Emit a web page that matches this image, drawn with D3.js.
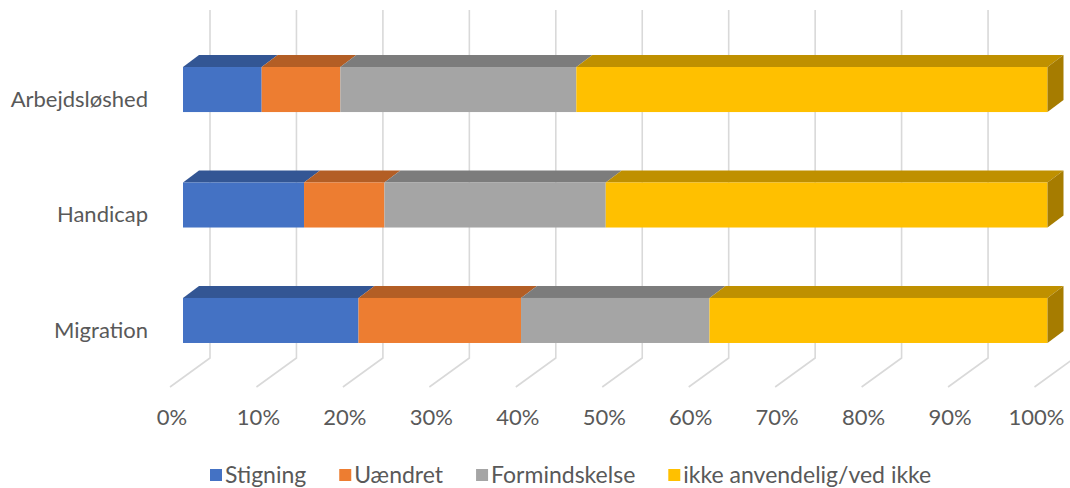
<!DOCTYPE html>
<html>
<head>
<meta charset="utf-8">
<script src="https://cdn.jsdelivr.net/npm/d3@7/dist/d3.min.js"></script>
<style>
  html, body { margin: 0; padding: 0; background: #fff; }
  svg { display: block; }
  text { font-family: Lato, "Open Sans", sans-serif; fill: #595959; }
</style>
</head>
<body>
<svg id="chart" width="1070" height="488"></svg>
<script>
// ---- data ----
const categories = ["Arbejdsløshed", "Handicap", "Migration"];
const seriesNames = ["Stigning", "Uændret", "Formindskelse", "ikke anvendelig/ved ikke"];
const stigning      = [0.091, 0.140, 0.203];
const uaendret      = [0.091, 0.093, 0.188];
const formindskelse = [0.273, 0.256, 0.218];
const ikke          = [0.545, 0.511, 0.391];
const tickValues = [0, 0.1, 0.2, 0.3, 0.4, 0.5, 0.6, 0.7, 0.8, 0.9, 1.0];
const tickLabels = ["0%", "10%", "20%", "30%", "40%", "50%", "60%", "70%", "80%", "90%", "100%"];

// ---- styles ----
const frontColors = ["#4472C4", "#ED7D31", "#A5A5A5", "#FFC000"];
const topColors   = ["#335694", "#B35E25", "#7C7C7C", "#BF9000"];
const sideColor   = "#A67C00";

const svg = d3.select("#chart");
const series = [stigning, uaendret, formindskelse, ikke];

// 3D geometry offsets
const wallX0 = 210, barX0 = 183, floorX0 = 170;
const depthDX = 16, depthDY = -12;
const wallTop = 10, wallBottom = 358, floorDX = -40, floorDY = 29;

const x = d3.scaleLinear().domain([0, 1]).range([0, 864.5]);
const y = d3.scaleBand().domain(categories).range([31.8, 378.2]).paddingInner(0.61).paddingOuter(0.305);

// gridlines (back wall + floor)
const grid = svg.append("g");
tickValues.forEach(v => {
  const gx = wallX0 + x(v);
  grid.append("path")
    .attr("d", `M${gx},${wallTop} L${gx},${wallBottom} L${gx + floorDX},${wallBottom + floorDY}`)
    .attr("fill", "none").attr("stroke", "#D9D9D9").attr("stroke-width", 1.6);
});

// tick labels
svg.append("g").selectAll("text").data(tickValues).join("text")
  .attr("x", (d) => floorX0 + x(d) + 2)
  .attr("y", 425)
  .attr("text-anchor", "middle")
  .style("font-size", "22px")
  .text((d, i) => tickLabels[i]);

// stacked data
const stackRows = categories.map((c, ci) => {
  let acc = 0;
  return series.map((s, si) => {
    const seg = { cat: c, si, x0: acc, x1: acc + s[ci], last: si === series.length - 1 };
    acc += s[ci];
    return seg;
  });
});

const bars = svg.append("g");
stackRows.forEach(row => {
  row.forEach(seg => {
    const yt = y(seg.cat), h = y.bandwidth();
    const a = barX0 + x(seg.x0), b = barX0 + x(seg.x1);
    // top face
    bars.append("path")
      .attr("d", `M${a},${yt} L${b},${yt} L${b + depthDX},${yt + depthDY} L${a + depthDX},${yt + depthDY} Z`)
      .attr("fill", topColors[seg.si]);
    // front face
    bars.append("rect")
      .attr("x", a).attr("y", yt).attr("width", b - a).attr("height", h)
      .attr("fill", frontColors[seg.si]);
    if (seg.last) {
      bars.append("path")
        .attr("d", `M${b},${yt} L${b + depthDX},${yt + depthDY} L${b + depthDX},${yt + depthDY + h} L${b},${yt + h} Z`)
        .attr("fill", sideColor);
    }
  });
});

// category labels
svg.append("g").selectAll("text").data(categories).join("text")
  .attr("x", 148)
  .attr("y", d => y(d) + 40)
  .attr("text-anchor", "end")
  .style("font-size", "22px")
  .text(d => d);

// legend
const legend = svg.append("g");
let lx = 210;
seriesNames.forEach((name, i) => {
  legend.append("rect").attr("x", lx).attr("y", 469).attr("width", 12).attr("height", 12).attr("fill", frontColors[i]);
  const t = legend.append("text").attr("x", lx + 15).attr("y", 483).style("font-size", "23px").text(name);
  const w = t.node().getComputedTextLength();
  lx += 15 + w + 33;
});
</script>
</body>
</html>
